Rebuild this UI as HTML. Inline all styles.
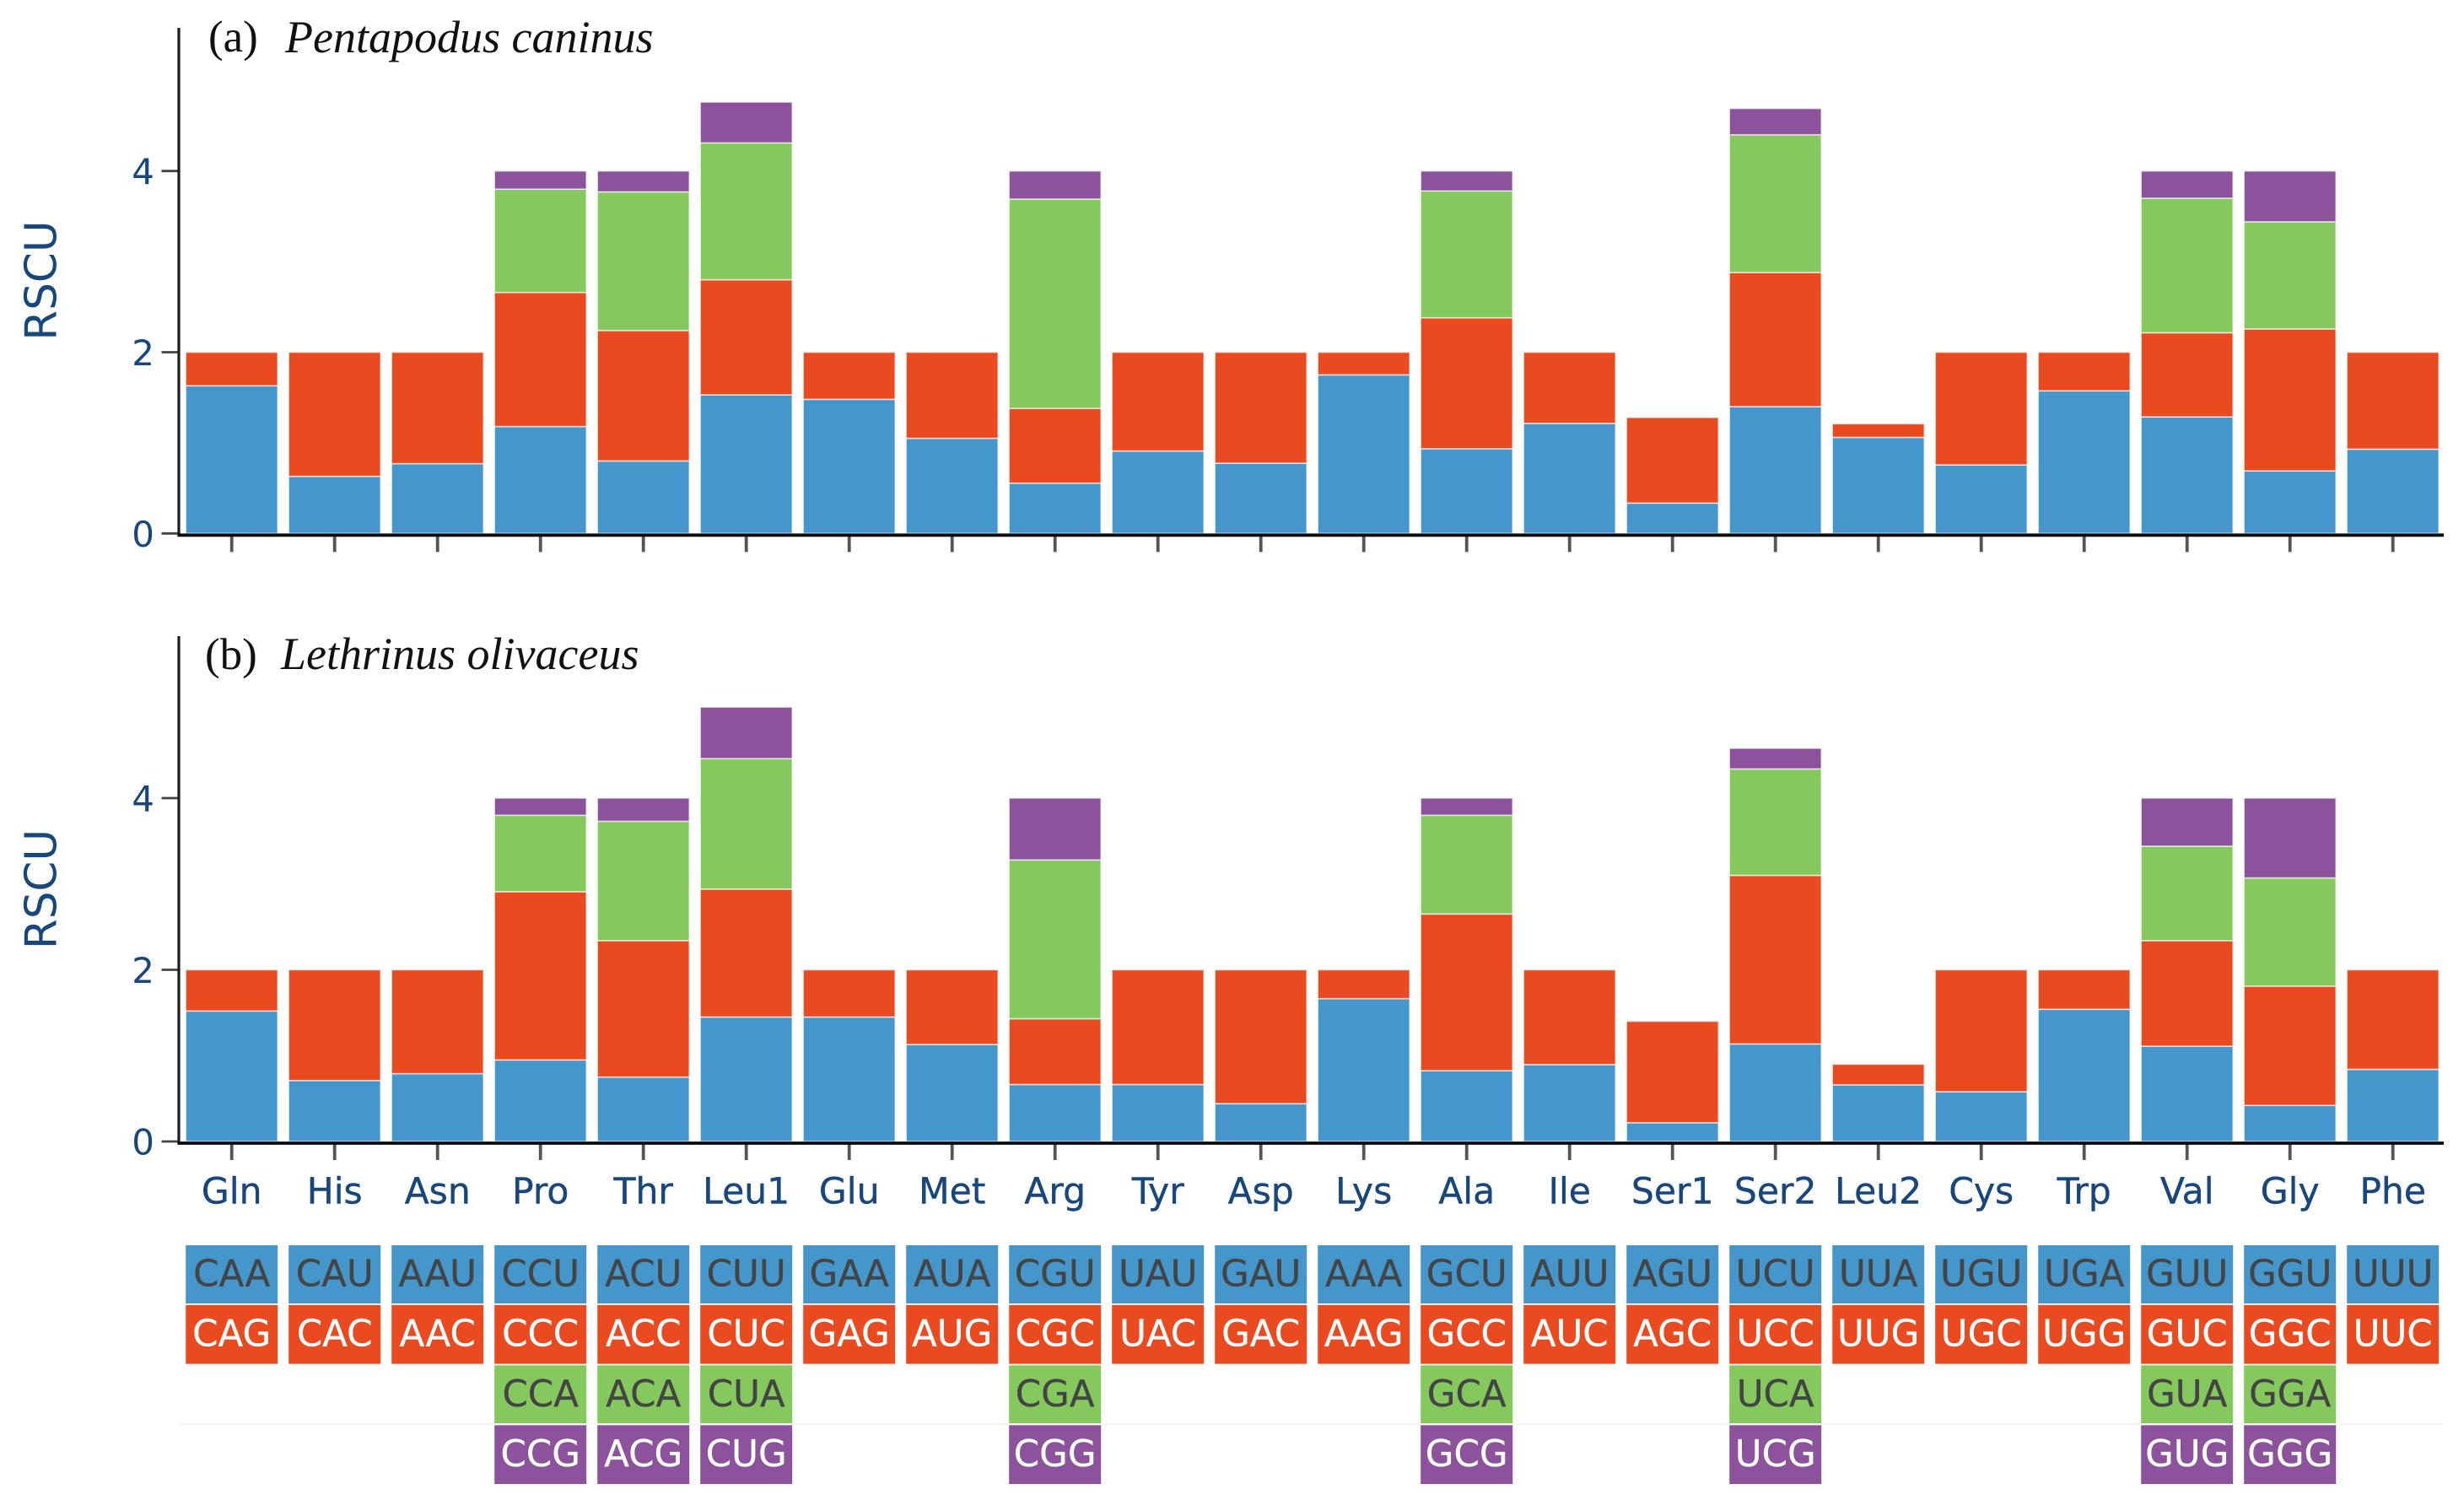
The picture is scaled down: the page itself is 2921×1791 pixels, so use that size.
<!DOCTYPE html>
<html lang="en">
<head>
<meta charset="utf-8">
<title>RSCU of Pentapodus caninus and Lethrinus olivaceus</title>
<style>
html,body{margin:0;padding:0;background:#fff;}
svg{display:block;}
</style>
</head>
<body>
<svg id="chart" xmlns="http://www.w3.org/2000/svg" width="2921" height="1791" viewBox="0 0 2921 1791">
  <rect x="0" y="0" width="2921" height="1791" fill="#ffffff"/>
  <g id="panel-a"></g>
  <g id="panel-b"></g>
  <g id="codon-table"></g>
  <text x="247" y="61" font-family="'Liberation Serif',serif" font-size="53" fill="#111">(a)</text>
  <text x="338" y="62" font-family="'Liberation Serif',serif" font-style="italic" font-size="54" fill="#111">Pentapodus caninus</text>
  <text x="243" y="793" font-family="'Liberation Serif',serif" font-size="53" fill="#111">(b)</text>
  <text x="333" y="793" font-family="'Liberation Serif',serif" font-style="italic" font-size="54" fill="#111">Lethrinus olivaceus</text>
</svg>
<script>
const categories = ["Gln","His","Asn","Pro","Thr","Leu1","Glu","Met","Arg","Tyr","Asp","Lys","Ala","Ile","Ser1","Ser2","Leu2","Cys","Trp","Val","Gly","Phe"];
const yTickValues = [0, 2, 4];

const aBlue   = [1.63,0.63,0.77,1.18,0.80,1.53,1.48,1.05,0.555,0.91,0.775,1.75,0.935,1.215,0.335,1.40,1.06,0.757,1.574,1.286,0.69,0.93];
const aRed    = [0.37,1.37,1.23,1.48,1.44,1.27,0.52,0.95,0.825,1.09,1.225,0.25,1.445,0.785,0.945,1.48,0.15,1.243,0.426,0.929,1.567,1.07];
const aGreen  = [0,0,0,1.14,1.53,1.51,0,0,2.31,0,0,0,1.40,0,0,1.52,0,0,0,1.485,1.183,0];
const aPurple = [0,0,0,0.20,0.23,0.45,0,0,0.31,0,0,0,0.22,0,0,0.29,0,0,0,0.30,0.56,0];

const bBlue   = [1.52,0.71,0.79,0.95,0.75,1.45,1.45,1.13,0.664,0.664,0.44,1.664,0.825,0.896,0.218,1.136,0.66,0.58,1.54,1.11,0.42,0.84];
const bRed    = [0.48,1.29,1.21,1.96,1.59,1.49,0.55,0.87,0.766,1.336,1.56,0.336,1.825,1.104,1.182,1.964,0.24,1.42,0.46,1.23,1.39,1.16];
const bGreen  = [0,0,0,0.89,1.39,1.52,0,0,1.85,0,0,0,1.15,0,0,1.24,0,0,0,1.10,1.26,0];
const bPurple = [0,0,0,0.20,0.27,0.60,0,0,0.72,0,0,0,0.20,0,0,0.24,0,0,0,0.56,0.93,0];

const codonsFirst  = ["CAA","CAU","AAU","CCU","ACU","CUU","GAA","AUA","CGU","UAU","GAU","AAA","GCU","AUU","AGU","UCU","UUA","UGU","UGA","GUU","GGU","UUU"];
const codonsSecond = ["CAG","CAC","AAC","CCC","ACC","CUC","GAG","AUG","CGC","UAC","GAC","AAG","GCC","AUC","AGC","UCC","UUG","UGC","UGG","GUC","GGC","UUC"];
const codonsThird  = ["","","","CCA","ACA","CUA","","","CGA","","","","GCA","","","UCA","","","","GUA","GGA",""];
const codonsFourth = ["","","","CCG","ACG","CUG","","","CGG","","","","GCG","","","UCG","","","","GUG","GGG",""];

const SVGNS = "http://www.w3.org/2000/svg";
const BLUE = "#4596cb", RED = "#ea4a20", GREEN = "#85c85e", PURPLE = "#8d529c";
const NAVY = "#17477c";
const FONT = "'DejaVu Sans','Liberation Sans',sans-serif";

function xCenter(i){ return 274.7 + 122 * i; }
function yScaleA(v){ return 632.3 - 107.4 * v; }
function yScaleB(v){ return 1353 - 101.75 * v; }

function shape(parent, tag, props){
  const el = document.createElementNS(SVGNS, tag);
  for (const k in props) el.setAttribute(k, props[k]);
  parent.appendChild(el);
  return el;
}

function drawPanel(groupId, prefix, yScale, axisTop, series, titleCenter){
  const g = document.getElementById(groupId);
  const colors = [BLUE, RED, GREEN, PURPLE];
  const seriesNames = ["first-codon", "second-codon", "third-codon", "fourth-codon"];
  const barWidth = 109;

  categories.forEach(function(cat, i){
    let cum = 0;
    series.forEach(function(values, s){
      const v = values[i];
      if (v <= 0) return;
      const top = yScale(cum + v);
      const bottom = yScale(cum);
      const r = shape(g, "rect", {
        x: xCenter(i) - barWidth / 2,
        y: top,
        width: barWidth,
        height: bottom - top,
        fill: colors[s],
        stroke: "#ffffff",
        "stroke-opacity": "0.65",
        "stroke-width": "1.6"
      });
      
      
      cum += v;
    });

    const tick = shape(g, "line", {
      x1: xCenter(i), x2: xCenter(i),
      y1: yScale(0) + 3, y2: yScale(0) + 22,
      stroke: "#555555", "stroke-width": "3.8"
    });
    
    
  });

  yTickValues.forEach(function(v){
    const t = shape(g, "line", {
      x1: 191.5, x2: 212,
      y1: yScale(v), y2: yScale(v),
      stroke: "#444444", "stroke-width": "2.8"
    });
    
    

    const lab = shape(g, "text", {
      x: 183, y: yScale(v) + 15.5,
      "text-anchor": "end",
      "font-family": FONT, "font-size": "42", fill: NAVY
    });
    lab.textContent = String(v);
    
    
  });

  const yAxis = shape(g, "line", {
    x1: 212, x2: 212, y1: axisTop, y2: yScale(0) + 3.5,
    stroke: "#1c1c1c", "stroke-width": "3.2"
  });
  
  

  const xAxis = shape(g, "line", {
    x1: 210.5, x2: 2897, y1: yScale(0) + 2, y2: yScale(0) + 2,
    stroke: "#0a0a0a", "stroke-width": "3.8"
  });
  
  

  const yTitle = shape(g, "text", {
    transform: "translate(66.5," + titleCenter + ") rotate(-90)",
    "text-anchor": "middle",
    "font-family": FONT, "font-size": "51.5", fill: NAVY
  });
  yTitle.textContent = "RSCU";
  
  
}

drawPanel("panel-a", "panel-a", yScaleA, 33, [aBlue, aRed, aGreen, aPurple], 332.5);
drawPanel("panel-b", "panel-b", yScaleB, 754, [bBlue, bRed, bGreen, bPurple], 1054);

(function drawTable(){
  const g = document.getElementById("codon-table");

  categories.forEach(function(cat, i){
    const lab = shape(g, "text", {
      x: xCenter(i), y: 1426.5,
      "text-anchor": "middle",
      "font-family": FONT, "font-size": "42.5", fill: NAVY,
      stroke: NAVY, "stroke-width": "0.4"
    });
    lab.textContent = cat;
    
    
  });

  const sep = shape(g, "line", {
    x1: 212, x2: 2897, y1: 1688, y2: 1688,
    stroke: "#f4f4f4", "stroke-width": "1.5"
  });
  
  

  const rows = [
    { codons: codonsFirst,  fill: BLUE,   text: "#444444", top: 1476,   bottom: 1545,   base: 1524.5 },
    { codons: codonsSecond, fill: RED,    text: "#ffffff", top: 1546.8, bottom: 1616.6, base: 1595.5 },
    { codons: codonsThird,  fill: GREEN,  text: "#444444", top: 1618.3, bottom: 1687,   base: 1667 },
    { codons: codonsFourth, fill: PURPLE, text: "#ffffff", top: 1689.3, bottom: 1759,   base: 1738 }
  ];

  rows.forEach(function(row){
    row.codons.forEach(function(codon, i){
      if (!codon) return;
      const cell = shape(g, "rect", {
        x: xCenter(i) - 54.5, y: row.top,
        width: 109, height: row.bottom - row.top,
        fill: row.fill
      });
      
      

      const label = shape(g, "text", {
        x: xCenter(i), y: row.base,
        "text-anchor": "middle",
        "font-family": FONT, "font-size": "43.5", fill: row.text,
        stroke: row.text, "stroke-width": "0.3"
      });
      label.textContent = codon;
      
      
    });
  });
})();
</script>
</body>
</html>
